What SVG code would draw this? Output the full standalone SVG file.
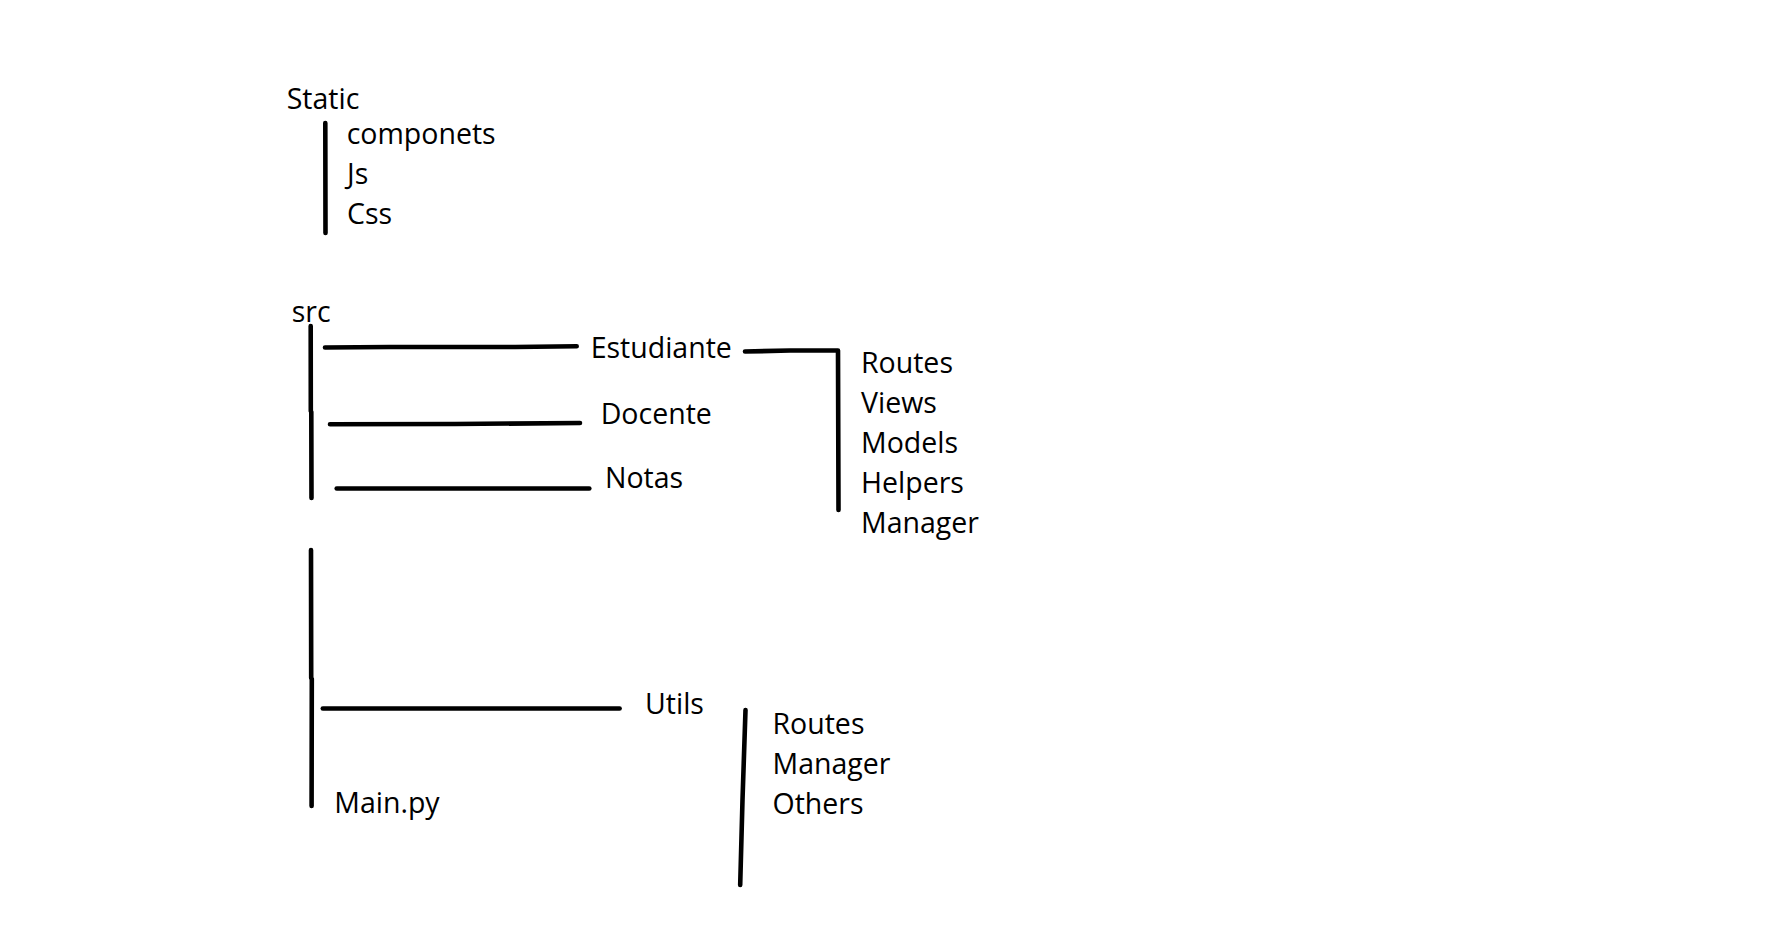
<svg xmlns="http://www.w3.org/2000/svg" width="1792" height="940" viewBox="0 0 1792 940">
<style>
text{font-family:"Open Sans","Noto Sans","DejaVu Sans",sans-serif;font-size:28.5px;fill:#000}
.ln{fill:none;stroke:#000;stroke-width:4.6;stroke-linecap:round;stroke-linejoin:round}
</style>
<rect width="1792" height="940" fill="#fff"/>
<g id="connectors">
<path class="ln" d="M325.3,123 L325.5,233"/>
<path class="ln" d="M310.7,326 L310.8,411 L311.3,412 L311.5,498"/>
<path class="ln" d="M325,347.5 L390,347 L515,347 L576.7,346.3"/>
<path class="ln" d="M330,424.3 L455,424 L580,423"/>
<path class="ln" d="M336.7,488.5 L589.3,488.5"/>
<path class="ln" d="M745,351.5 L790,350.5 L838,350.5 L838.5,510"/>
<path class="ln" d="M311,550 L311.2,678 L311.8,679 L311.6,806"/>
<path class="ln" d="M322.8,708.5 L619.6,708.5"/>
<path class="ln" d="M745.5,710 L742.5,800 L740.2,885"/>
</g>
<g id="static"><text x="286.7" y="108.5">Static</text></g>
<g id="componets"><text x="346.7" y="143.5">componets</text></g>
<g id="js"><text x="347" y="184">Js</text></g>
<g id="css"><text x="347" y="224">Css</text></g>
<g id="src"><text x="291.7" y="322">src</text></g>
<g id="estudiante"><text x="590.7" y="357.7">Estudiante</text></g>
<g id="docente"><text x="600.7" y="424.3">Docente</text></g>
<g id="notas"><text x="605" y="487.7">Notas</text></g>
<g id="est-routes"><text x="861" y="373.3">Routes</text></g>
<g id="est-views"><text x="861" y="413">Views</text></g>
<g id="est-models"><text x="861" y="453">Models</text></g>
<g id="est-helpers"><text x="861" y="493">Helpers</text></g>
<g id="est-manager"><text x="861" y="533">Manager</text></g>
<g id="utils"><text x="645" y="713.7">Utils</text></g>
<g id="utils-routes"><text x="772.5" y="734.3">Routes</text></g>
<g id="utils-manager"><text x="772.5" y="773.7">Manager</text></g>
<g id="utils-others"><text x="772.5" y="813.7">Others</text></g>
<g id="main"><text x="334.3" y="812.7">Main.py</text></g>
</svg>
